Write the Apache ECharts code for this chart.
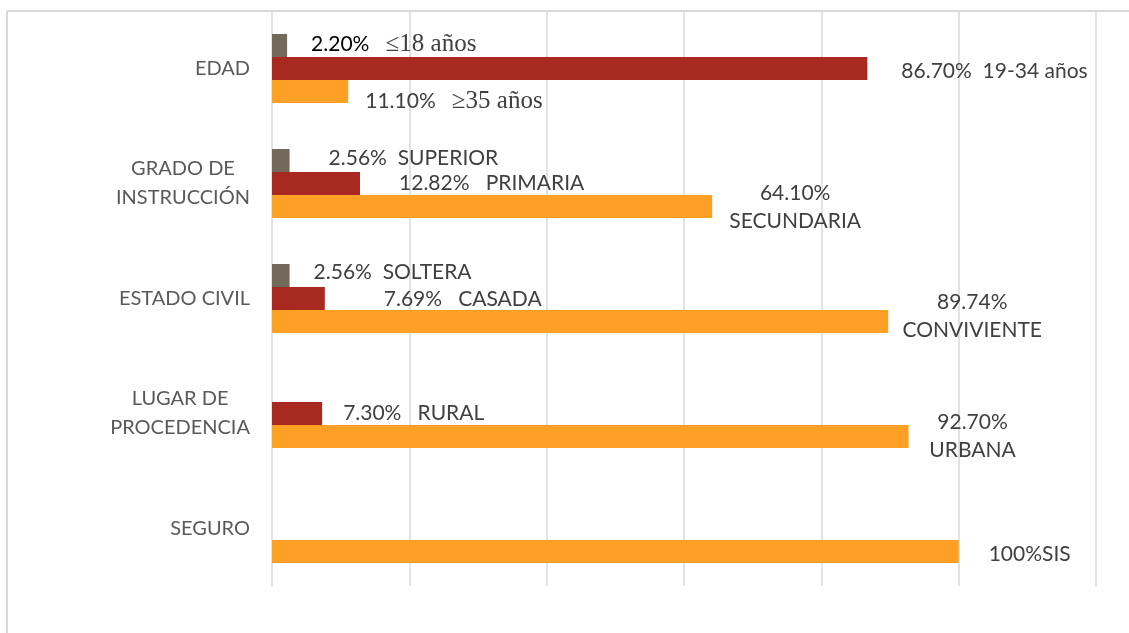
<!DOCTYPE html>
<html>
<head>
<meta charset="utf-8">
<style>
  html, body { margin: 0; padding: 0; background: #ffffff; }
  #chart { width: 1129px; height: 633px; }
</style>
<script src="https://cdn.jsdelivr.net/npm/echarts@6/dist/echarts.min.js"></script>
</head>
<body>
<div id="chart"></div>
<script>
// Categories, top to bottom
const categories = ['EDAD', 'GRADO DE\nINSTRUCCIÓN', 'ESTADO CIVIL', 'LUGAR DE\nPROCEDENCIA', 'SEGURO'];

// Percentages per group (null = no bar)
const grayValues   = [2.20, 2.56, 2.56, null, null];
const redValues    = [86.70, 12.82, 7.69, 7.30, null];
const orangeValues = [11.10, 64.10, 89.74, 92.70, 100];

// Label descriptions that follow each percentage
const grayNames   = ['≤18 años', 'SUPERIOR', 'SOLTERA', '', ''];
const redNames    = ['19-34 años', 'PRIMARIA', 'CASADA', 'RURAL', ''];
const orangeNames = ['≥35 años', 'SECUNDARIA', 'CONVIVIENTE', 'URBANA', 'SIS'];

// Axis scale
const axisMin = 0, axisMax = 120, axisStep = 20;

const COLORS = { gray: '#72695b', red: '#a8291f', orange: '#fea025' };
const SANS = 'Lato';
const SERIF = '"Liberation Serif", "DejaVu Serif", serif';
const TEXT = '#404040';
const FS = 21;      // value labels
const FS_AXIS = 20; // category labels

function pct(v) {
  return (Number.isInteger(v) ? String(v) : v.toFixed(2)) + '%';
}

// Label placement per bar: [dx, dy] from the bar end, plus text mode
const grayLayout = [
  { off: [24, -1], mode: 'serif', dark: true, gap: '   ' },
  { off: [39, -2], gap: '  ' },
  { off: [24, -3], gap: '  ' },
  null, null
];
const redLayout = [
  { off: [34, 3], gap: '  ' },
  { off: [39, 0], gap: '   ' },
  { off: [59, 1], gap: '   ' },
  { off: [21, 0], gap: '   ' },
  null
];
const orangeLayout = [
  { off: [17, 10], mode: 'serif', gap: '   ' },
  { off: [83, 1], mode: 'stack' },
  { off: [84, -5], mode: 'stack' },
  { off: [64, 0], mode: 'stack' },
  { off: [30, 3], gap: '' }
];

function buildData(values, names, layout) {
  return values.map((v, i) => {
    if (v == null) return '-';
    const lay = layout[i];
    const label = {
      show: true,
      position: 'right',
      distance: 0,
      offset: lay.off,
      fontFamily: SANS,
      fontSize: FS,
      color: TEXT,
      lineHeight: 28
    };
    if (lay.mode === 'serif') {
      label.formatter = '{k|' + pct(v) + '}' + lay.gap + '{s|' + names[i] + '}';
      label.rich = {
        k: { fontFamily: SANS, fontSize: FS, color: lay.dark ? '#000000' : TEXT },
        s: { fontFamily: SERIF, fontSize: 25, color: TEXT }
      };
    } else if (lay.mode === 'stack') {
      label.formatter = pct(v) + '\n' + names[i];
      label.align = 'center';
    } else {
      label.formatter = pct(v) + lay.gap + names[i];
    }
    return { value: v, label: label };
  });
}

const chart = echarts.init(document.getElementById('chart'), null, { renderer: 'canvas' });

const barBase = { type: 'bar', barGap: '0%', barCategoryGap: '40%', silent: true };

chart.setOption({
  animation: false,
  backgroundColor: '#ffffff',
  grid: { left: 272, right: 33, top: 11, bottom: 47, containLabel: false },
  xAxis: {
    type: 'value',
    min: axisMin,
    max: axisMax,
    interval: axisStep,
    axisLine: { show: false },
    axisTick: { show: false },
    axisLabel: { show: false },
    splitLine: { show: true, lineStyle: { color: '#d9d9d9', width: 1.5 } }
  },
  yAxis: {
    type: 'category',
    inverse: true,
    data: categories,
    axisLine: { show: false },
    axisTick: { show: false },
    axisLabel: {
      margin: 22,
      fontFamily: SANS,
      fontSize: FS_AXIS,
      color: '#595959',
      lineHeight: 29,
      formatter: function (val) {
        return val.split('\n').map(s => '{m|' + s + '}').join('\n');
      },
      rich: { m: { align: 'center', fontFamily: SANS, fontSize: FS_AXIS, color: '#595959', lineHeight: 29 } }
    }
  },
  series: [
    Object.assign({}, barBase, { name: 'gray', itemStyle: { color: COLORS.gray }, data: buildData(grayValues, grayNames, grayLayout) }),
    Object.assign({}, barBase, { name: 'red', itemStyle: { color: COLORS.red }, data: buildData(redValues, redNames, redLayout) }),
    Object.assign({}, barBase, { name: 'orange', itemStyle: { color: COLORS.orange }, data: buildData(orangeValues, orangeNames, orangeLayout) })
  ],
  graphic: [
    { type: 'line', silent: true, shape: { x1: 7, y1: 11, x2: 1129, y2: 11 }, style: { stroke: '#d9d9d9', lineWidth: 2 } },
    { type: 'line', silent: true, shape: { x1: 7, y1: 11, x2: 7, y2: 633 }, style: { stroke: '#d9d9d9', lineWidth: 2 } }
  ]
});
</script>
</body>
</html>
